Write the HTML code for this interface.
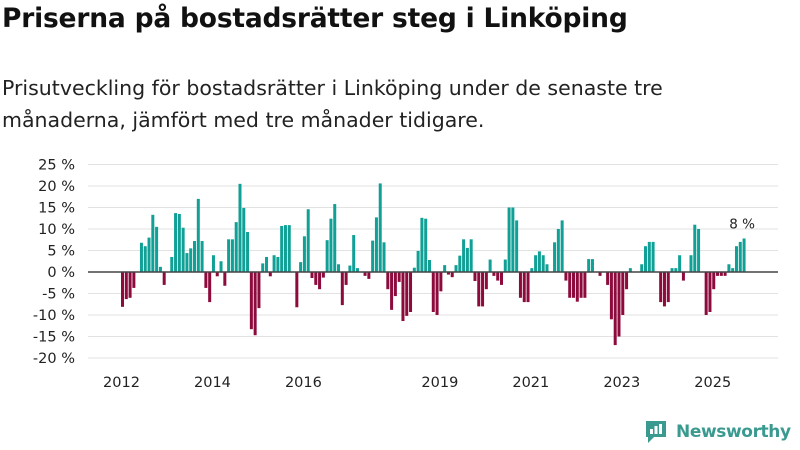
<!DOCTYPE html>
<html><head><meta charset="utf-8"><style>
body{margin:0;width:800px;height:450px;background:#fff;font-family:"DejaVu Sans",sans-serif;overflow:hidden;position:relative}
h1{position:absolute;left:2px;top:3px;margin:0;font-size:26.5px;font-weight:bold;color:#111;letter-spacing:-0.2px}
.sub{position:absolute;left:2px;top:72px;font-size:20.5px;line-height:32px;color:#222;width:798px;letter-spacing:0px;white-space:nowrap}
svg{position:absolute;left:0;top:0}
</style></head><body>
<h1>Priserna på bostadsrätter steg i Linköping</h1>
<div class="sub">Prisutveckling för bostadsrätter i Linköping under de senaste tre<br>månaderna, jämfört med tre månader tidigare.</div>
<svg id="chart" width="800" height="450"></svg>
<script>
const values=[-8.1,-6.3,-6,-3.7,0,6.8,6,8,13.3,10.5,1.2,-3,0,3.5,13.7,13.5,10.3,4.4,5.5,7.2,17,7.2,-3.7,-7,3.9,-1,2.5,-3.2,7.6,7.6,11.6,20.5,14.9,9.3,-13.3,-14.7,-8.4,2,3.5,-1,3.9,3.5,10.7,10.9,10.9,0,-8.2,2.3,8.3,14.6,-1.4,-3,-4,-1.3,7.4,12.4,15.8,1.8,-7.7,-3,1.5,8.6,0.9,0,-0.9,-1.6,7.3,12.7,20.6,6.9,-4,-8.8,-5.6,-2.3,-11.4,-10.2,-9.3,1,4.9,12.6,12.4,2.8,-9.3,-10,-4.5,1.6,-0.6,-1.2,1.6,3.8,7.6,5.6,7.6,-2.1,-8,-8,-4,2.9,-0.9,-2,-3,2.9,15,15,12,-6,-7,-7,0.9,3.9,4.8,3.9,1.8,0,6.9,10,12,-2,-6,-6,-6.9,-6,-6,3,3,0,-0.9,0,-3,-11,-17,-15,-10,-4,0.9,0,0,1.8,6,7,7,0,-7,-8,-7,0.9,0.9,3.9,-2,0,3.9,11,10,0,-10,-9.3,-4,-0.9,-0.9,-0.9,1.8,0.9,6,7,7.8];
const yTicks=[25,20,15,10,5,0,-5,-10,-15,-20];
const xYears=[2012,2014,2016,2019,2021,2023,2025];
const startYear=2012;
const svg=document.getElementById('chart');const NS='http://www.w3.org/2000/svg';
const FF='DejaVu Sans, sans-serif';
function y(v){return 272-v*4.3;}
function x(i){return 122.5+i*3.79;}
function mk(t,a){const e=document.createElementNS(NS,t);for(const k in a)e.setAttribute(k,a[k]);svg.appendChild(e);return e;}
yTicks.forEach(t=>{
 const g=mk('line',{x1:88,x2:778,y1:y(t),y2:y(t),stroke:'#e2e2e2','stroke-width':1});
 
 
 const l=mk('text',{x:75,y:y(t)+5,'text-anchor':'end','font-size':14.5,fill:'#222','font-family':FF});
 l.textContent=t+' %';
 
 
});
xYears.forEach(yr=>{
 const l=mk('text',{x:x((yr-startYear)*12)-1,y:387,'text-anchor':'middle','font-size':14.5,fill:'#222','font-family':FF});
 l.textContent=yr;
 
 
});
values.forEach((v,i)=>{
 const top=Math.min(y(v),y(0)),h=Math.abs(y(v)-y(0));
 const r=mk('rect',{x:x(i)-1.5,y:top,width:3,height:h,fill:v>=0?'#10a096':'#8c0a3c'});
 
 
});
const z=mk('line',{x1:88,x2:778,y1:y(0),y2:y(0),stroke:'#444','stroke-width':1.5});


const last=values.length-1;
const lab=mk('text',{x:x(last)-2,y:y(values[last])-10,'text-anchor':'middle','font-size':13.5,fill:'#222','font-family':FF});
lab.textContent=Math.round(values[last])+' %';


</script>
<div style="position:absolute;left:644px;top:419px;display:flex;align-items:center">
 <svg width="24" height="26" viewBox="0 0 24 26" style="position:static"><path d="M2 2h20v16H10l-6 6v-6H2z" fill="#3a9a90"/><rect x="6" y="10" width="3" height="5" fill="#fff"/><rect x="10.5" y="7" width="3" height="8" fill="#fff"/><rect x="15" y="5" width="3" height="10" fill="#fff"/></svg>
 <span style="font-size:17px;font-weight:bold;color:#3a9a90;margin-left:8px;letter-spacing:-0.4px">Newsworthy</span>
</div>
</body></html>
